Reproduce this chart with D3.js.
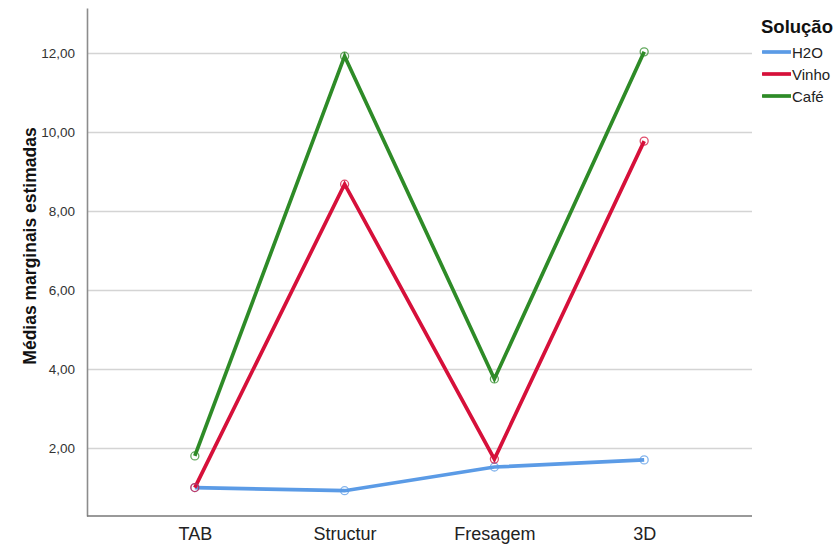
<!DOCTYPE html>
<html><head><meta charset="utf-8">
<script src="https://cdn.jsdelivr.net/npm/d3@7"></script>
<style>body{margin:0;background:#fff;} svg{display:block;}</style>
</head><body>
<svg id="c" width="838" height="547"></svg>
<script>
const categories = ["TAB", "Structur", "Fresagem", "3D"];
const seriesNames = ["H2O", "Vinho", "Café"];
const h2o = [1.00, 0.92, 1.52, 1.70];
const vinho = [1.00, 8.68, 1.72, 9.77];
const cafe = [1.80, 11.92, 3.75, 12.03];
const yTicks = [2, 4, 6, 8, 10, 12];
const colors = ["#5b9be6", "#d6103a", "#2e8b27"];
const seriesValues = [h2o, vinho, cafe];

const svg = d3.select("#c");
const pLeft = 87, pRight = 752, pTop = 8, pBottom = 516;
const y = d3.scaleLinear().domain([0.28, 13.14]).range([pBottom, pTop]);
const x = d3.scalePoint().domain(categories).range([pLeft, pRight]).padding(0.72);
const font = "Arial, 'Liberation Sans', sans-serif";

// gridlines
svg.append("g").selectAll("line").data(yTicks).join("line")
  .attr("x1", pLeft).attr("x2", pRight)
  .attr("y1", d => Math.round(y(d)) + 0.5).attr("y2", d => Math.round(y(d)) + 0.5)
  .attr("stroke", "#d4d4d4").attr("stroke-width", 1.3);

// axes
const yAxis = svg.append("g").attr("transform", `translate(${pLeft},0)`)
  .call(d3.axisLeft(y).tickValues(yTicks).tickSize(0).tickPadding(12)
    .tickFormat(d => d3.format(".2f")(d).replace(".", ",")));
yAxis.select(".domain").attr("stroke", "#8c8c8c").attr("stroke-width", 1.6);
yAxis.selectAll("text").attr("font-family", font)
  .attr("font-size", 13.5).attr("fill", "#333");

const xAxis = svg.append("g").attr("transform", `translate(0,${pBottom})`)
  .call(d3.axisBottom(x).tickSize(0).tickPadding(11));
xAxis.select(".domain").attr("stroke", "#777").attr("stroke-width", 1.6)
  .attr("d", `M${pLeft},0H${pRight}`);
xAxis.selectAll("text").attr("font-family", font)
  .attr("font-size", 18).attr("fill", "#222");

// y label
svg.append("text").attr("transform", `translate(36,246) rotate(-90)`)
  .attr("text-anchor", "middle").attr("font-family", font)
  .attr("font-weight", "bold").attr("font-size", 17.5).attr("fill", "#111")
  .text("Médias marginais estimadas");

// lines
const line = d3.line().x((d, i) => x(categories[i])).y(d => y(d));
seriesValues.forEach((vals, si) => {
  svg.append("path").datum(vals).attr("d", line)
    .attr("fill", "none").attr("stroke", colors[si]).attr("stroke-width", 3.7)
    .attr("stroke-linejoin", "miter");
});
seriesValues.forEach((vals, si) => {
  svg.append("g").selectAll("circle").data(vals).join("circle")
    .attr("cx", (d, i) => x(categories[i])).attr("cy", d => y(d)).attr("r", 4)
    .attr("fill", "none").attr("stroke", colors[si]).attr("stroke-opacity", 0.75).attr("stroke-width", 1.3);
});

// legend
svg.append("text").attr("x", 761).attr("y", 33)
  .attr("font-family", font)
  .attr("font-weight", "bold").attr("font-size", 18.5).attr("fill", "#111").text("Solução");
const lg = svg.append("g").selectAll("g").data(seriesNames).join("g")
  .attr("transform", (d, i) => `translate(0,${52 + i * 22})`);
lg.append("line").attr("x1", 762).attr("x2", 791).attr("y1", 0).attr("y2", 0)
  .attr("stroke", (d, i) => colors[i]).attr("stroke-width", 3.7);
lg.append("text").attr("x", 792).attr("y", 5.5)
  .attr("font-family", font)
  .attr("font-size", 15).attr("fill", "#222").text(d => d);
</script>
</body></html>
